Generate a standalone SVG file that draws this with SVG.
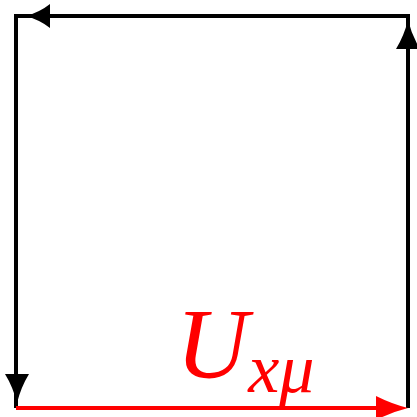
<svg xmlns="http://www.w3.org/2000/svg" width="417" height="417" viewBox="0 0 417 417">
<style>
.ln{fill:none;stroke-width:4;stroke-linecap:butt;stroke-linejoin:miter}
.k{stroke:#000}
.r{stroke:#f00}
.ha{fill:#000}
.hr{fill:#f00}
.lbl{font-family:"Liberation Serif","DejaVu Serif",serif;font-style:italic;fill:#f00}
</style>
<rect width="417" height="417" fill="#fff"/>
<g id="connectors">
<path class="ln k" d="M408,408 V16 H16 V408"/>
<path class="ln r" d="M16,408 H400"/>
<path class="ha" d="M26,16 Q40,12 50,4 L50,28 Q40,20 26,16 Z"/>
<path class="ha" d="M408,20 Q412,36 420,49 L396,49 Q404,36 408,20 Z"/>
<path class="ha" d="M17,403 Q13,387 5,374 L29,374 Q21,387 17,403 Z"/>
<path class="hr" d="M408,408 Q392,404 376,396 L376,420 Q392,412 408,408 Z"/>
</g>
<g id="label">
<text class="lbl" x="176" y="377" font-size="100">U<tspan font-size="70" dy="15">xμ</tspan></text>
</g>
</svg>
